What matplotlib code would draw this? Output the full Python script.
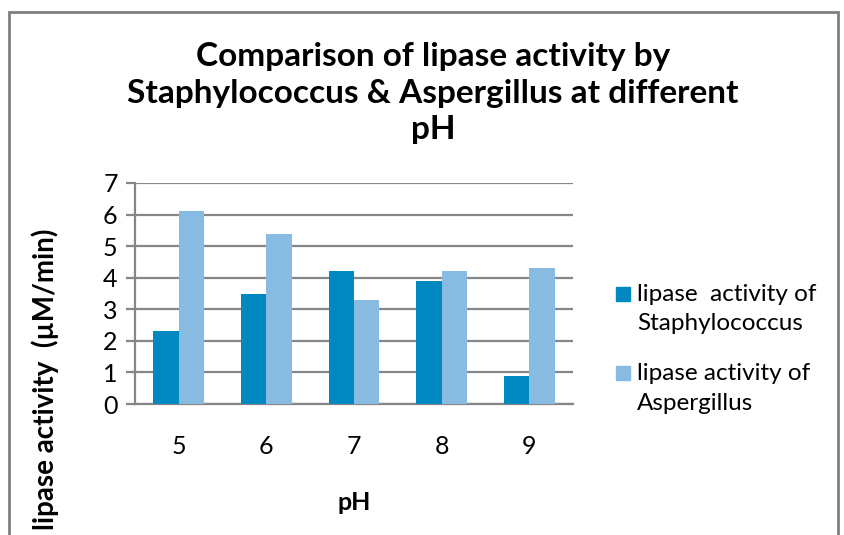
import matplotlib
matplotlib.use("Agg")
import matplotlib.pyplot as plt
from matplotlib.patches import Rectangle
import numpy as np

# data
ph = ["5", "6", "7", "8", "9"]
staph = [2.3, 3.5, 4.2, 3.9, 0.9]
asper = [6.1, 5.4, 3.3, 4.2, 4.3]
labels = ["lipase  activity of\nStaphylococcus", "lipase activity of\nAspergillus"]

dark = "#0089C1"
light = "#87BBE2"
grid_col = "#868686"

plt.rcParams["font.family"] = ["Lato", "DejaVu Sans"]

W, H = 845, 535
fig = plt.figure(figsize=(W / 100, H / 100), dpi=100)

# outer chart frame (cropped at the bottom)
fig.patches.append(Rectangle((9 / W, -0.1), (838 - 9) / W, 1.1 - 12 / H,
                             transform=fig.transFigure, fill=False,
                             edgecolor="#7f7f7f", linewidth=2))

ax = fig.add_axes([135 / W, 1 - 404 / H, (573 - 135) / W, (404 - 183) / H])

x = np.arange(len(ph))
bw = 0.29
b1 = ax.bar(x - bw / 2, staph, bw, color=dark, zorder=3)
b2 = ax.bar(x + bw / 2, asper, bw, color=light, zorder=3)

ax.set_xlim(-0.5, len(ph) - 0.5)
ax.set_ylim(0, 7)
ax.set_yticks(range(0, 8))
ax.set_xticks(x)
ax.set_xticklabels(ph)
ax.yaxis.grid(True, color=grid_col, linewidth=1.6, zorder=0)
for s in ["top", "right"]:
    ax.spines[s].set_visible(False)
ax.spines["left"].set_color(grid_col)
ax.spines["left"].set_linewidth(1.6)
ax.spines["bottom"].set_color(grid_col)
ax.spines["bottom"].set_linewidth(1.6)
ax.tick_params(axis="y", length=6.5, width=1.6, color=grid_col, pad=6, labelsize=18)
ax.tick_params(axis="x", length=0, pad=22, labelsize=18)

ax.set_xlabel("pH", fontsize=18, fontweight="bold", labelpad=24)

fig.text(433 / W, 1 - 93 / H,
         "Comparison of lipase activity by\nStaphylococcus & Aspergillus at different\npH",
         ha="center", va="center", fontsize=24, fontweight="bold", linespacing=1.3)

fig.text(45 / W, 1 - 229 / H, "lipase activity  (\u00b5M/min)", rotation=90,
         ha="center", va="top", fontsize=20, fontweight="bold")

# legend: square next to the first line of each two-line label
for i, (lab, col) in enumerate(zip(labels, [dark, light])):
    y0 = 294 + i * 79
    fig.patches.append(Rectangle((616 / W, 1 - (y0 + 7) / H), 14 / W, 14 / H,
                                 transform=fig.transFigure, color=col))
    fig.text(637 / W, 1 - (y0 - 10) / H, lab, ha="left", va="top",
             fontsize=17.5, linespacing=1.5)

fig.savefig("out.png", dpi=100)
